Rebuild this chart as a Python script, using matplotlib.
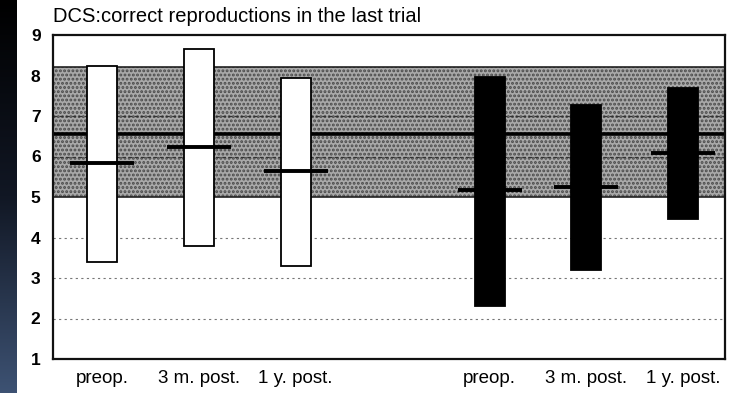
import numpy as np
import matplotlib
matplotlib.use("Agg")
import matplotlib.pyplot as plt
from matplotlib.colors import LinearSegmentedColormap

plt.rcParams['font.family'] = ['Liberation Sans', 'DejaVu Sans']
plt.rcParams['hatch.linewidth'] = 1.4

# DCS scores: range (min..max) and mean per group/time point
labels = ["preop.", "3 m. post.", "1 y. post.", "preop.", "3 m. post.", "1 y. post."]
positions = [0, 1, 2, 4, 5, 6]
lows = [3.4, 3.8, 3.3, 2.3, 3.2, 4.45]
highs = [8.23, 8.65, 7.95, 7.97, 7.27, 7.68]
means = [5.84, 6.24, 5.65, 5.17, 5.25, 6.09]
fills = ["white", "white", "white", "black", "black", "black"]

# normal reference range and its mean
norm_low, norm_high, norm_mean = 5.0, 8.2, 6.55

title = "DCS:correct reproductions in the last trial"

fig = plt.figure(figsize=(7.42, 3.93), dpi=100)
fig.patch.set_facecolor("white")

# dark slide edge on the left
edge = fig.add_axes([0, 0, 17 / 742, 1])
cmap = LinearSegmentedColormap.from_list("edge", ["#000000", "#111724", "#3d5273"])
edge.imshow(np.linspace(0, 1, 256).reshape(-1, 1), aspect="auto", cmap=cmap,
            extent=[0, 1, 0, 1])
edge.set_axis_off()

ax = fig.add_axes([53 / 742, 1 - 359 / 393, (725 - 53) / 742, (359 - 35) / 393])
ax.set_xlim(-0.505, 6.43)
ax.set_ylim(1, 9)

# shaded normal range
ax.axhspan(norm_low, norm_high, facecolor="#a9a9a9", edgecolor="#4a4a4a",
           hatch="....", linewidth=0, zorder=1)
ax.axhline(norm_low, color="#222222", lw=1.2, zorder=2)
ax.axhline(norm_high, color="#222222", lw=1.2, zorder=2)
ax.axhline(norm_mean, color="black", lw=2.6, zorder=2)

# dotted grid lines
for yv in [2, 3, 4]:
    ax.axhline(yv, color="#777777", lw=0.8, ls=(0, (2, 3)), zorder=1.5)
for yv in [6, 7]:
    ax.axhline(yv, color="#333333", lw=0.9, ls=(0, (3, 2)), zorder=1.5)

width = 0.31
for x, lo, hi, m, fc in zip(positions, lows, highs, means, fills):
    ax.bar(x, hi - lo, bottom=lo, width=width, color=fc, edgecolor="black",
           linewidth=1.3, zorder=3)
    ax.plot([x - 0.33, x + 0.33], [m, m], color="black", lw=2.8,
            solid_capstyle="butt", zorder=4)

ax.set_yticks(range(1, 10))
ax.set_yticklabels([str(v) for v in range(1, 10)], fontsize=12.5, fontweight="bold")
ax.set_xticks(positions)
ax.set_xticklabels(labels, fontsize=13.5)
ax.tick_params(axis="both", length=0)
ax.tick_params(axis="y", pad=9)
ax.tick_params(axis="x", pad=8)
for s in ax.spines.values():
    s.set_linewidth(1.6)
    s.set_color("#111111")

fig.text(53 / 742, 1 - 17 / 393, title, fontsize=14.5, ha="left", va="center")

fig.savefig("out.png", dpi=100, facecolor="white")
